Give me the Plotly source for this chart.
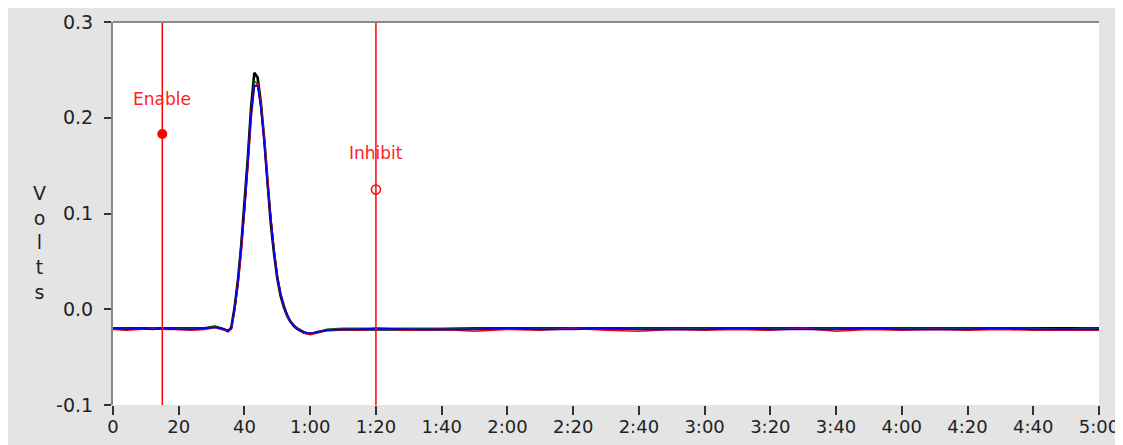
import plotly.graph_objects as go

# ---------------- data ----------------
time_s = [0, 4, 8, 12, 16, 20, 24, 28, 31, 33, 35, 36, 37, 38, 39, 40, 41, 42, 43, 44,
          45, 46, 47, 48, 49, 50, 51, 52, 53, 54, 55, 56, 58, 60, 62, 65, 70, 75, 80, 90,
          100, 110, 120, 130, 140, 150, 160, 170, 180, 190, 200, 210, 220, 230, 240, 250,
          260, 270, 280, 290, 295, 300]

black_v = [-0.020, -0.020, -0.020, -0.020, -0.020, -0.020, -0.020, -0.020, -0.018, -0.020,
           -0.023, -0.019, 0.002, 0.030, 0.066, 0.108, 0.157, 0.210, 0.247, 0.242,
           0.215, 0.178, 0.130, 0.090, 0.058, 0.032, 0.014, 0.002, -0.007, -0.013,
           -0.017, -0.020, -0.024, -0.026, -0.024, -0.022, -0.021, -0.021, -0.021, -0.021,
           -0.021, -0.020, -0.020, -0.020, -0.020, -0.020, -0.020, -0.020, -0.020, -0.020,
           -0.020, -0.020, -0.020, -0.020, -0.020, -0.020, -0.020, -0.020, -0.020, -0.020,
           -0.020, -0.020]

red_v = [-0.021, -0.022, -0.021, -0.020, -0.021, -0.021, -0.022, -0.021, -0.019, -0.021,
         -0.022, -0.021, -0.002, 0.024, 0.058, 0.098, 0.146, 0.197, 0.232, 0.236,
         0.214, 0.180, 0.134, 0.095, 0.063, 0.036, 0.017, 0.004, -0.006, -0.013,
         -0.018, -0.021, -0.025, -0.026, -0.025, -0.022, -0.021, -0.022, -0.020, -0.022,
         -0.021, -0.023, -0.021, -0.022, -0.020, -0.022, -0.023, -0.021, -0.022, -0.021,
         -0.022, -0.020, -0.023, -0.021, -0.022, -0.021, -0.022, -0.021, -0.022, -0.022,
         -0.022, -0.022]

blue_v = [-0.020, -0.021, -0.020, -0.021, -0.020, -0.021, -0.021, -0.020, -0.019, -0.020,
          -0.022, -0.020, 0.000, 0.027, 0.062, 0.103, 0.151, 0.203, 0.233, 0.233,
          0.210, 0.176, 0.131, 0.093, 0.061, 0.034, 0.016, 0.003, -0.006, -0.013,
          -0.018, -0.021, -0.024, -0.025, -0.024, -0.022, -0.021, -0.021, -0.020, -0.021,
          -0.021, -0.021, -0.020, -0.021, -0.021, -0.020, -0.021, -0.021, -0.021, -0.020,
          -0.021, -0.021, -0.021, -0.020, -0.021, -0.021, -0.021, -0.020, -0.021, -0.021,
          -0.021, -0.021]

green_v = [-0.020, -0.020, -0.020, -0.020, -0.020, -0.020, -0.020, -0.020, -0.018, -0.020,
           -0.022, -0.020, 0.001, 0.029, 0.064, 0.105, 0.154, 0.206, 0.238, 0.236,
           0.212, 0.177, 0.132, 0.092, 0.060, 0.033, 0.015, 0.002, -0.007, -0.013,
           -0.018, -0.020, -0.024, -0.025, -0.024, -0.021, -0.020, -0.020, -0.020, -0.020,
           -0.020, -0.020, -0.020, -0.020, -0.020, -0.020, -0.020, -0.020, -0.020, -0.020,
           -0.020, -0.020, -0.020, -0.020, -0.020, -0.020, -0.020, -0.020, -0.020, -0.021,
           -0.020, -0.020]

cursor_names = ["Enable", "Inhibit"]
cursor_x = [15, 80]
cursor_y = [0.183, 0.125]
cursor_label_y = [0.220, 0.163]

x_tick_vals = [0, 20, 40, 60, 80, 100, 120, 140, 160, 180, 200, 220, 240, 260, 280, 300]
x_tick_text = ["0", "20", "40", "1:00", "1:20", "1:40", "2:00", "2:20", "2:40", "3:00",
               "3:20", "3:40", "4:00", "4:20", "4:40", "5:00"]
y_tick_vals = [-0.1, 0.0, 0.1, 0.2, 0.3]
y_tick_text = ["-0.1", "0.0", "0.1", "0.2", "0.3"]
y_title = "Volts"

for s in (black_v, red_v, blue_v, green_v):
    assert len(s) == len(time_s)

# ---------------- figure ----------------
FONT = "DejaVu Sans"
OFF = 8                      # page body margin
W, H = 1123 - OFF, 445 - OFF
L, R, T, B = 113 - OFF, 1123 - 1099, 22 - OFF, 445 - 405
pw, ph = W - L - R, H - T - B


def px_to_paper_x(px):       # px: screen pixel
    return (px - OFF - L) / pw


def px_to_paper_y(py):
    return (H - B - (py - OFF)) / ph


fig = go.Figure()

series = [("black", black_v, "#000000", 2.6), ("green", green_v, "#006a00", 1.6),
          ("red", red_v, "#ff0000", 1.6), ("blue", blue_v, "#0000ff", 1.6)]
for name, vals, col, wd in series:
    fig.add_trace(go.Scatter(x=time_s, y=vals, mode="lines", name=name,
                             line=dict(color=col, width=wd),
                             showlegend=False, hoverinfo="skip"))

# cursors
for i, nm in enumerate(cursor_names):
    fig.add_shape(type="line", xref="x", yref="paper", x0=cursor_x[i], x1=cursor_x[i],
                  y0=0, y1=1, line=dict(color="#ff0000", width=1.5), layer="above")
    fig.add_annotation(x=cursor_x[i], y=cursor_label_y[i], xref="x", yref="y", text=nm,
                       showarrow=False, font=dict(family=FONT, size=17, color="#ff2020"))

fig.add_trace(go.Scatter(x=[cursor_x[0]], y=[cursor_y[0]], mode="markers", showlegend=False,
                         marker=dict(color="#ff0000", size=10, symbol="circle"), hoverinfo="skip"))
fig.add_trace(go.Scatter(x=[cursor_x[1]], y=[cursor_y[1]], mode="markers", showlegend=False,
                         marker=dict(color="#ffffff", size=9, symbol="circle",
                                     line=dict(color="#ff0000", width=1.5)), hoverinfo="skip"))

# right dark edge of the panel
fig.add_shape(type="line", xref="paper", yref="paper",
              x0=px_to_paper_x(1121), x1=px_to_paper_x(1121),
              y0=px_to_paper_y(450), y1=px_to_paper_y(0),
              line=dict(color="#8c8c8c", width=2), layer="below")
# plot area white
fig.add_shape(type="rect", xref="paper", yref="paper", x0=0, x1=1, y0=0, y1=1,
              fillcolor="#ffffff", line=dict(width=0), layer="below")
# top border
fig.add_shape(type="line", xref="paper", yref="paper", x0=0, x1=1, y0=1, y1=1,
              line=dict(color="#8a8a8a", width=2), layer="above")

# vertical stacked "Volts" as a single text block
fig.add_annotation(x=px_to_paper_x(32), y=px_to_paper_y(242), xref="paper", yref="paper",
                   text="<br>".join(list(y_title)), showarrow=False, borderpad=0,
                   align="center", font=dict(family=FONT, size=19, color="#222222"))

fig.update_layout(
    width=W, height=H,
    margin=dict(l=L, r=R, t=T, b=B, autoexpand=False),
    paper_bgcolor="#e4e4e4",
    plot_bgcolor="rgba(0,0,0,0)",
    font=dict(family=FONT, size=17, color="#222222"),
    xaxis=dict(range=[0, 300], tickmode="array", tickvals=x_tick_vals, ticktext=x_tick_text,
               showgrid=False, zeroline=False, showline=False, ticks="outside", ticklen=9,
               tickcolor="#333333", tickwidth=1.5, automargin=False, ticklabelstandoff=-4,
               tickfont=dict(family=FONT, size=18, color="#222222")),
    yaxis=dict(range=[-0.1, 0.3], tickmode="array", tickvals=y_tick_vals, ticktext=y_tick_text,
               showgrid=False, zeroline=False, showline=True, linecolor="#8a8a8a", linewidth=2,
               ticks="outside", ticklen=7, tickcolor="#333333", tickwidth=1.5, automargin=False,
               ticklabelstandoff=7,
               tickfont=dict(family=FONT, size=19, color="#222222")),
)

fig.write_html("out.html", post_script="document.body.style.overflow='hidden';")
